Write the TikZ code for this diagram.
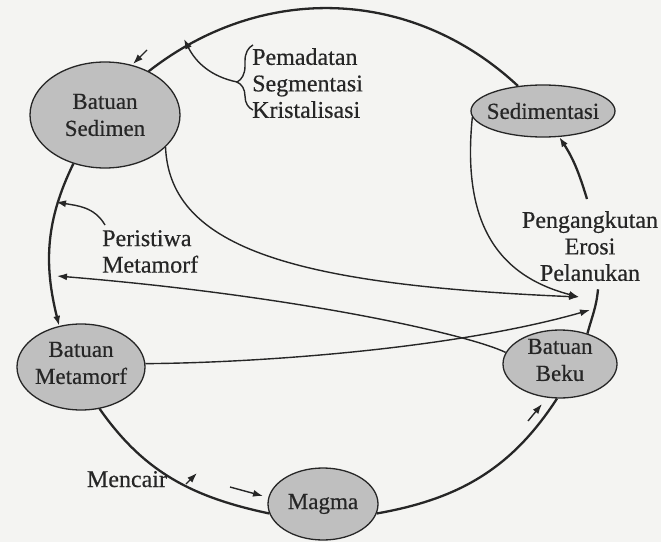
\documentclass[tikz,border=0pt]{standalone}
\usepackage{fontspec}
\setmainfont{Liberation Serif}[FakeBold=0.5]
\usetikzlibrary{shapes.geometric,arrows.meta,decorations.pathreplacing}
\definecolor{ink}{HTML}{262626}
\definecolor{rockfill}{HTML}{BFBFBF}
\definecolor{paper}{HTML}{F4F4F2}
\begin{document}
\begin{tikzpicture}[x=1pt,y=1pt,
  every node/.style={font=\fontsize{24}{26.5}\selectfont, text=ink},
  rock/.style={ellipse, draw=ink, line width=1.3pt, fill=rockfill, inner sep=0pt},
  rocktxt/.style={align=center, inner sep=0pt, font=\fontsize{23}{27}\selectfont, text=ink},
  cyc/.style={draw=ink, line width=2.3pt},
  link/.style={draw=ink, line width=1.4pt},
  tip/.style={-{Latex[length=10pt,width=7pt]}},
]
\path[use as bounding box, fill=paper] (0,0) rectangle (661,542);

% rock stages
\node[rock, minimum width=150pt, minimum height=106pt,
      label={[rocktxt]center:Batuan\\Sedimen}] (bs) at (105,427) {};
\node[rock, minimum width=144pt, minimum height=52pt,
      label={[rocktxt]center:Sedimentasi}] (sdt) at (543,431) {};
\node[rock, minimum width=128pt, minimum height=86pt,
      label={[rocktxt, yshift=4pt]center:Batuan\\Metamorf}] (bm) at (81,175) {};
\node[rock, minimum width=114pt, minimum height=68pt,
      label={[rocktxt, yshift=4pt]center:Batuan\\Beku}] (bb) at (560,178) {};
\node[rock, minimum width=110pt, minimum height=72pt,
      label={[rocktxt]center:Magma}] (mg) at (323,38) {};

% process labels
\node[anchor=north west, align=left, inner sep=0pt] (proc) at (252,494)
     {Pemadatan\\Segmentasi\\Kristalisasi};
\node[anchor=north, align=center, inner sep=0pt] (pe) at (590,331)
     {Pengangkutan\\Erosi\\Pelanukan};
\node[anchor=north west, align=left, inner sep=0pt] (per) at (102,312)
     {Peristiwa\\Metamorf};
\node[anchor=base, inner sep=0pt] (mc) at (127,55) {Mencair};

% free ends
\coordinate (w1) at (579,245);
\coordinate (w2) at (590,232);
\coordinate (w3) at (57,266);
\coordinate (w4) at (56,340);
\coordinate (w5) at (184,503);
\coordinate (brA) at (253,432);
\coordinate (brB) at (253,497);
\coordinate (brtip) at (237,460);
\coordinate (pstart) at (105,317);
\coordinate (s1a) at (147,492); \coordinate (s1b) at (133,478);
\coordinate (s2a) at (230,55);  \coordinate (s2b) at (263,46);
\coordinate (s3a) at (186,58);  \coordinate (s3b) at (197,69);
\coordinate (s4a) at (528,121); \coordinate (s4b) at (542,138);

% the rock cycle
\draw[cyc] (sdt.135) to[out=137,in=38] (bs.45);
\draw[cyc, tip] (bs.237) to[out=244,in=104] (bm.118);
\draw[cyc] (bm.294) to[out=305,in=168] (mg.190);
\draw[cyc] (mg.350) to[out=10,in=237] (bb.265);
\draw[cyc] (bb.48) to[out=75,in=265] ([shift={(8,-8)}]pe.south);
\draw[cyc, tip] ([shift={(-3,12)}]pe.north) to[out=107,in=303] (sdt.302);

% cross links
\draw[link, tip] (bs.332) .. controls (170,292) and (300,257) .. (w1);
\draw[link, tip] (sdt.185) .. controls (462,322) and (495,267) .. (w1);
\draw[link, tip] (bm.3) .. controls (250,179) and (450,192) .. (w2);
\draw[link, tip] (bb.168) .. controls (470,207) and (300,246) .. (w3);
\draw[link, tip] (pstart) to[out=120,in=-10] (w4);
\draw[link, decorate, decoration={brace, amplitude=16pt, aspect=0.43}] (brA) -- (brB);
\draw[link, tip] (brtip) to[out=168,in=297] (w5);

% direction marks
\draw[link, tip] (s1a) -- (s1b);
\draw[link, tip] (s2a) -- (s2b);
\draw[link, tip] (s3a) -- (s3b);
\draw[link, tip] (s4a) -- (s4b);
\end{tikzpicture}
\end{document}
